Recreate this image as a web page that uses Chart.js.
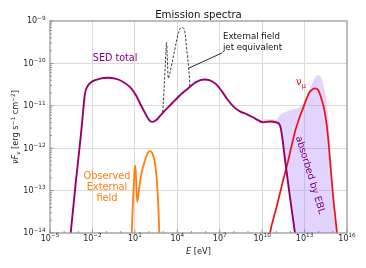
<!DOCTYPE html>
<html>
<head>
<meta charset="utf-8">
<script src="https://cdn.jsdelivr.net/npm/chart.js@4.4.1/dist/chart.umd.min.js"></script>
<style>
  html, body { margin: 0; padding: 0; background: #fff; }
  #wrap { width: 366px; height: 268px; }
</style>
</head>
<body>
<div id="wrap"><canvas id="c" width="366" height="268"></canvas></div>
<script>
// values are log10(E / eV) and log10(nuFnu / erg s-1 cm-2)

// SED total
const sedLogE = [-3.62, -3.16, -2.81, -2.65, -2.53, -2.31, -2.03, -1.46, -0.90, -0.40, 0.09, 0.66, 1.08, 1.36, 1.72, 2.00, 2.21, 2.49, 2.78, 3.13, 3.63, 4.19, 4.76, 5.32, 5.89, 6.31, 6.74, 7.16, 7.59, 8.01, 8.43, 8.93, 9.35, 9.71, 10.06, 10.56, 10.98, 11.26, 11.40, 11.62, 11.90, 12.32, 12.43];
const sedLogF = [-14.28, -12.75, -11.67, -11.10, -10.72, -10.52, -10.43, -10.36, -10.34, -10.36, -10.42, -10.56, -10.75, -10.94, -11.17, -11.33, -11.38, -11.34, -11.24, -11.11, -10.94, -10.75, -10.59, -10.44, -10.38, -10.40, -10.49, -10.66, -10.87, -11.03, -11.13, -11.20, -11.27, -11.34, -11.39, -11.37, -11.39, -11.46, -11.69, -12.28, -12.99, -14.0, -14.28];

// nu_mu
const nuLogE = [10.45, 10.56, 10.98, 11.40, 11.83, 12.30, 12.66, 12.89, 13.10, 13.31, 13.53, 13.74, 13.95, 14.16, 14.34, 14.52, 14.66, 14.80, 15.01, 15.29, 15.36];
const nuLogF = [-14.28, -14.0, -13.44, -12.87, -12.31, -11.64, -11.26, -11.06, -10.87, -10.70, -10.62, -10.59, -10.62, -10.80, -11.01, -11.34, -11.74, -12.28, -13.10, -14.0, -14.28];

// observed external field
const obsLogE = [0.73, 0.78, 0.87, 0.96, 1.01, 1.06, 1.12, 1.17, 1.29, 1.43, 1.60, 1.79, 1.93, 2.07, 2.21, 2.35, 2.49, 2.60, 2.67, 2.73, 2.76];
const obsLogF = [-14.28, -14.0, -13.22, -12.63, -12.41, -12.52, -12.99, -13.27, -12.99, -12.66, -12.42, -12.21, -12.10, -12.07, -12.10, -12.23, -12.52, -12.99, -13.46, -14.0, -14.28];

// external field jet equivalent (dashed)
const jetLogE = [2.97, 3.06, 3.17, 3.24, 3.29, 3.36, 3.49, 3.70, 3.91, 4.09, 4.26, 4.40, 4.55, 4.69, 4.83, 4.90];
const jetLogF = [-11.15, -10.63, -9.93, -9.50, -9.81, -10.35, -10.21, -9.88, -9.53, -9.27, -9.16, -9.16, -9.29, -9.74, -10.21, -10.58];

// absorbed by EBL band (upper edge = unabsorbed, lower edge = SED / bottom)
const eblLogE = [10.91, 11.26, 11.40, 11.62, 11.90, 12.32, 12.43, 12.68, 12.96, 13.24, 13.53, 13.74, 13.95, 14.09, 14.30, 14.44, 14.59, 14.69, 14.80, 15.01, 15.29, 15.36];
const eblUpper = [-11.38, -11.22, -11.19, -11.15, -11.11, -11.075, -11.07, -11.02, -10.91, -10.70, -10.47, -10.34, -10.28, -10.29, -10.47, -10.68, -10.99, -11.34, -12.05, -13.10, -14.0, -14.28];
const eblLower = [-11.38, -11.46, -11.69, -12.28, -12.99, -14.0, -14.28, -14.3, -14.3, -14.3, -14.3, -14.3, -14.3, -14.3, -14.3, -14.3, -14.3, -14.3, -14.3, -14.3, -14.3, -14.3];

// thin tan strip above the SED near 1e10 eV
const tanLogE = [9.85, 10.06, 10.56, 10.98, 11.10];
const tanUpper = [-11.36, -11.33, -11.32, -11.33, -11.40];
const tanLower = [-11.36, -11.39, -11.37, -11.39, -11.40];

// annotation pointer
const pointerLogE = [4.83, 7.18];
const pointerLogF = [-10.11, -9.75];

// axis ticks (decades)
const xDecades = [-5, -4, -3, -2, -1, 0, 1, 2, 3, 4, 5, 6, 7, 8, 9, 10, 11, 12, 13, 14, 15, 16];
const xLabelled = [-5, -2, 1, 4, 7, 10, 13, 16];
const yDecades = [-14, -13, -12, -11, -10, -9];

// text labels: [text, logE, logF, colour, size, align]
const notes = [
  ['SED total', -0.40, -9.88, '#800080', 9.6, 'center'],
  ['Observed', -0.97, -12.66, '#ff7f0e', 9.8, 'center'],
  ['External', -0.97, -12.92, '#ff7f0e', 9.8, 'center'],
  ['field', -0.97, -13.18, '#ff7f0e', 9.8, 'center'],
  ['External field', 7.23, -9.38, '#111', 8.6, 'left'],
  ['jet equivalent', 7.23, -9.64, '#111', 8.6, 'left']
];

const FONT = "'DejaVu Sans', sans-serif";
const TICK_COLOR = '#262626';

const pts = (xs, ys) => xs.map((x, i) => ({ x: 10 ** x, y: 10 ** ys[i] }));
const decadeOf = (v) => Math.round(Math.log10(v));
const expText = (e) => String(e).replace('-', '−');

function lineSet(data, color, width, extra) {
  return Object.assign({
    data: data,
    showLine: true,
    borderColor: color,
    backgroundColor: color,
    borderWidth: width,
    pointRadius: 0,
    pointHoverRadius: 0,
    cubicInterpolationMode: 'monotone',
    fill: false
  }, extra || {});
}

// draws text made of pieces: [text, size, shift, italic]
function drawParts(ctx, parts, x, y, angle, align, color) {
  ctx.save();
  ctx.translate(x, y);
  ctx.rotate(angle);
  ctx.fillStyle = color;
  ctx.textAlign = 'left';
  ctx.textBaseline = 'alphabetic';
  const fnt = p => (p[3] ? 'italic ' : '') + p[1] + 'px ' + FONT;
  let w = 0;
  parts.forEach(p => { ctx.font = fnt(p); w += ctx.measureText(p[0]).width; });
  let cx = align === 'center' ? -w / 2 : (align === 'right' ? -w : 0);
  parts.forEach(p => {
    ctx.font = fnt(p);
    ctx.fillText(p[0], cx, p[2]);
    cx += ctx.measureText(p[0]).width;
  });
  ctx.restore();
}

const powParts = (e) => [['10', 8, 0, false], [expText(e), 5.7, -3.6, false]];

const decor = {
  id: 'decor',
  afterDatasetsDraw(chart) {
    const ctx = chart.ctx;
    const a = chart.chartArea;
    const xs = chart.scales.x, ys = chart.scales.y;

    // text labels inside the plot
    notes.forEach(n => {
      ctx.save();
      ctx.font = n[4] + 'px ' + FONT;
      ctx.fillStyle = n[3];
      ctx.textAlign = n[5];
      ctx.textBaseline = 'middle';
      ctx.fillText(n[0], xs.getPixelForValue(10 ** n[1]), ys.getPixelForValue(10 ** n[2]));
      ctx.restore();
    });
    drawParts(ctx, [['ν', 10, 0, false], ['μ', 7, 2.5, false]],
      xs.getPixelForValue(10 ** 12.39), ys.getPixelForValue(10 ** -10.43) + 3.5, 0, 'left', '#ee1111');
    drawParts(ctx, [['absorbed by EBL', 9.6, 0, false]],
      xs.getPixelForValue(10 ** 13.45) - 3.3, ys.getPixelForValue(10 ** -12.63) + 1, 73 * Math.PI / 180, 'center', '#800080');

    // spines
    ctx.save();
    ctx.strokeStyle = '#9a9a9a';
    ctx.lineWidth = 1.3;
    ctx.strokeRect(a.left, a.top, a.right - a.left, a.bottom - a.top);

    // inward ticks
    ctx.strokeStyle = '#8a8a8a';
    ctx.lineWidth = 0.9;
    ctx.beginPath();
    xDecades.forEach(d => {
      const px = xs.getPixelForValue(10 ** d);
      const len = xLabelled.includes(d) ? 3.5 : 2;
      ctx.moveTo(px, a.bottom);
      ctx.lineTo(px, a.bottom - len);
    });
    yDecades.forEach(d => {
      const py = ys.getPixelForValue(10 ** d);
      ctx.moveTo(a.left, py);
      ctx.lineTo(a.left + 3.5, py);
      if (d < -9) {
        for (let m = 2; m <= 9; m++) {
          const pm = ys.getPixelForValue(m * 10 ** d);
          ctx.moveTo(a.left, pm);
          ctx.lineTo(a.left + 2, pm);
        }
      }
    });
    ctx.stroke();
    ctx.restore();
  },
  afterDraw(chart) {
    const ctx = chart.ctx;
    const a = chart.chartArea;
    const xs = chart.scales.x, ys = chart.scales.y;

    // tick labels with real superscripts
    xLabelled.forEach(d => {
      drawParts(ctx, powParts(d), xs.getPixelForValue(10 ** d), a.bottom + 8, 0, 'center', TICK_COLOR);
    });
    yDecades.forEach(d => {
      drawParts(ctx, powParts(d), a.left - 4.5, ys.getPixelForValue(10 ** d) + 2.4, 0, 'right', TICK_COLOR);
    });

    // title
    ctx.save();
    ctx.font = '10.2px ' + FONT;
    ctx.fillStyle = '#111';
    ctx.textAlign = 'center';
    ctx.textBaseline = 'alphabetic';
    ctx.fillText('Emission spectra', (a.left + a.right) / 2, 17.5);
    ctx.restore();
    // x label
    drawParts(ctx, [['E', 8.2, 0, true], [' [eV]', 8.2, 0, false]], (a.left + a.right) / 2, 254, 0, 'center', '#222');
    // y label
    drawParts(ctx, [
      ['ν', 8.2, 0, true], ['F', 8.2, 0, true], ['ν', 5.8, 2, true],
      [' [erg s', 8.2, 0, false], ['−1', 5.8, -3.3, false],
      [' cm', 8.2, 0, false], ['−2', 5.8, -3.3, false], [']', 8.2, 0, false]
    ], 18, (a.top + a.bottom) / 2, -Math.PI / 2, 'center', '#222');
  }
};

const datasets = [
  lineSet(pts(sedLogE, sedLogF), '#990066', 1.9, { order: 1 }),
  lineSet(pts(nuLogE, nuLogF), '#ee1111', 1.7, { order: 2 }),
  lineSet(pts(obsLogE, obsLogF), '#ff7f0e', 1.8, { order: 3 }),
  lineSet(pts(jetLogE, jetLogF), '#222', 0.9, { order: 4, borderDash: [2.5, 1.6] }),
  lineSet(pts(pointerLogE, pointerLogF), '#111', 0.9, { order: 5, cubicInterpolationMode: 'default' }),
  lineSet(pts(eblLogE, eblLower), 'rgba(0,0,0,0)', 0, { order: 8 }),
  lineSet(pts(eblLogE, eblUpper), 'rgba(0,0,0,0)', 0, { order: 7, fill: { target: '-1' }, backgroundColor: 'rgba(160,110,255,0.30)' }),
  lineSet(pts(tanLogE, tanLower), 'rgba(0,0,0,0)', 0, { order: 10 }),
  lineSet(pts(tanLogE, tanUpper), 'rgba(0,0,0,0)', 0, { order: 9, fill: { target: '-1' }, backgroundColor: 'rgba(235,185,110,0.55)' })
];

new Chart(document.getElementById('c'), {
  type: 'scatter',
  data: { datasets: datasets },
  options: {
    responsive: false,
    devicePixelRatio: 1,
    animation: false,
    events: [],
    layout: { padding: { top: 21, right: 19, left: 0, bottom: 0 } },
    plugins: { legend: { display: false }, tooltip: { enabled: false }, title: { display: false } },
    scales: {
      x: {
        type: 'logarithmic',
        min: 1e-5,
        max: 1e16,
        afterBuildTicks: (s) => { s.ticks = xDecades.map(d => ({ value: 10 ** d })); },
        afterFit: (s) => { s.height = 35; },
        border: { display: false },
        grid: {
          drawTicks: false,
          lineWidth: 1,
          color: (c) => (c.tick && xLabelled.includes(decadeOf(c.tick.value)) && decadeOf(c.tick.value) !== -5 && decadeOf(c.tick.value) !== 16) ? '#dadada' : 'rgba(0,0,0,0)'
        },
        ticks: { display: false }
      },
      y: {
        type: 'logarithmic',
        min: 1e-14,
        max: 1e-9,
        afterBuildTicks: (s) => { s.ticks = yDecades.map(d => ({ value: 10 ** d })); },
        afterFit: (s) => { s.width = 50; },
        border: { display: false },
        grid: {
          drawTicks: false,
          lineWidth: 1,
          color: (c) => (c.tick && decadeOf(c.tick.value) > -14 && decadeOf(c.tick.value) < -9) ? '#dadada' : 'rgba(0,0,0,0)'
        },
        ticks: { display: false }
      }
    }
  },
  plugins: [decor]
});
</script>
</body>
</html>
